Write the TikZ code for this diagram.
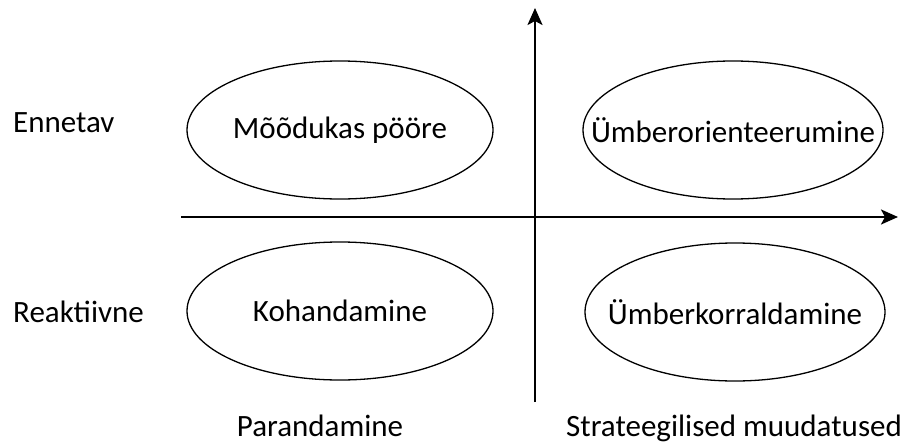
\documentclass[tikz,border=0pt]{standalone}
\usepackage{fontspec}
\setmainfont{Carlito}
\usetikzlibrary{shapes.geometric,arrows.meta}

\begin{document}
\begin{tikzpicture}[x=1pt,y=-1pt,font=\fontsize{31}{36}\selectfont,
  oval/.style={draw,ellipse,line width=1.3pt,minimum width=306pt,minimum height=138pt,inner sep=0pt},
  lbl/.style={inner sep=0pt}]
  \useasboundingbox (0,0) rectangle (907,444);
  % axes
  \coordinate (xs) at (181,217);
  \coordinate (xe) at (898,217);
  \coordinate (ys) at (535,402);
  \coordinate (ye) at (535,8);
  \path[-{Stealth[length=17pt,width=15pt,inset=4pt]},line width=2.4pt]
    (xs) edge (xe)
    (ys) edge (ye);
  % quadrants
  \node[oval,label=center:{Mõõdukas pööre}] (mood) at (340,130) {};
  \node[oval,minimum width=300pt,label=center:{Ümberorienteerumine}] (orient) at (733,130) {};
  \node[oval,label=center:{Kohandamine}] (kohand) at (340,311) {};
  \node[oval,minimum width=300pt,label=center:{Ümberkorraldamine}] (korral) at (735,312) {};
  % row and column labels
  \node[lbl,anchor=base west] (ennetav) at (13,132) {Ennetav};
  \node[lbl,anchor=base west] (reakt) at (13,322) {Reaktiivne};
  \node[lbl,anchor=base] (parand) at (320,436) {Parandamine};
  \node[lbl,anchor=base] (strat) at (734,436) {Strateegilised muudatused};
\end{tikzpicture}
\end{document}
